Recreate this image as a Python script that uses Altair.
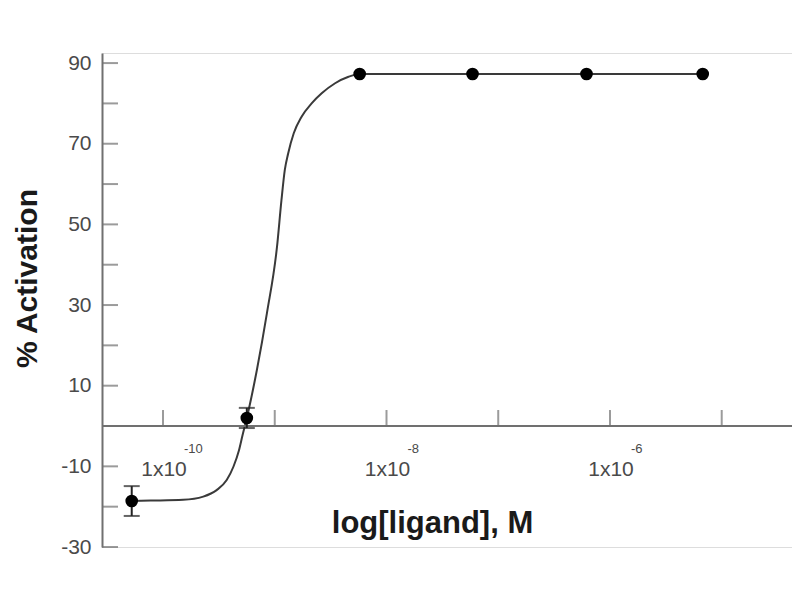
import altair as alt
import pandas as pd

# data points (x as log10 of molar concentration)
pt_logx = [-10.28, -9.25, -8.24, -7.23, -6.21, -5.17]
pt_y = [-18.6, 2.0, 87.3, 87.3, 87.3, 87.3]
pt_err = [3.7, 2.5, 0.0, 0.0, 0.0, 0.0]

# fitted curve
curve_logx = [-10.28, -10.11, -9.82, -9.64, -9.52, -9.43, -9.37, -9.32, -9.29,
              -9.25, -9.16, -9.07, -8.98, -8.94, -8.91, -8.88, -8.83, -8.76,
              -8.67, -8.58, -8.46, -8.34, -8.24, -5.17]
curve_y = [-18.6, -18.5, -18.3, -17.5, -15.9, -13.4, -10.1, -6.0, -2.5,
           2.0, 13.9, 28.0, 44.4, 56.0, 63.5, 67.6, 72.6, 76.7,
           80.0, 82.5, 85.0, 86.6, 87.3, 87.3]

# axis ticks and labels
x_ticks = [-10, -9, -8, -7, -6, -5]
x_label_pos = [-10, -8, -6]
x_label_base = ["1x10", "1x10", "1x10"]
x_label_sup = ["-10", "-8", "-6"]
y_labels = [-30, -10, 10, 30, 50, 70, 90]
y_ticks = [-30, -20, -10, 10, 20, 30, 40, 50, 60, 70, 80, 90]

LABEL_FONT = "Liberation Sans, Arial"
BOLD = "Liberation Sans, Arial"
AXIS_GRAY = "#707070"
LABEL_GRAY = "#4a4a4a"

W, H = 690, 494
xscale = alt.Scale(domain=[-10.546, -4.371], nice=False, zero=False)
yscale = alt.Scale(domain=[-30, 92.5], nice=False, zero=False)

pts = pd.DataFrame({"lx": pt_logx, "y": pt_y, "err": pt_err})
pts["lo"] = pts["y"] - pts["err"]
pts["hi"] = pts["y"] + pts["err"]
errs = pts[pts["err"] > 0]
curve = pd.DataFrame({"lx": curve_logx, "y": curve_y})
xt = pd.DataFrame({"lx": x_ticks, "zero": [0] * len(x_ticks)})
xl = pd.DataFrame({"lx": x_label_pos, "base": x_label_base,
                   "sup": x_label_sup, "zero": [0] * len(x_label_pos)})
yt = pd.DataFrame({"y": y_ticks})

x_axis = alt.Axis(domain=False, ticks=False, labels=False, grid=False,
                  title="log[ligand], M", titleFont=BOLD, titleFontSize=31,
                  titleFontWeight="bold", titleColor="#1a1a1a",
                  titleX=330, titleY=-15, titleAlign="center",
                  titleBaseline="alphabetic")
y_axis = alt.Axis(values=y_labels, ticks=False, domain=True,
                  domainColor=AXIS_GRAY, domainWidth=2, grid=False,
                  labelExpr="'' + datum.value",
                  labelFont=LABEL_FONT, labelFontSize=21, labelColor=LABEL_GRAY,
                  labelPadding=11,
                  title="% Activation", titleFont=BOLD, titleFontSize=30,
                  titleFontWeight="bold", titleColor="#1a1a1a",
                  titleAngle=270, titleX=-66, titleY=225,
                  titleAlign="center", titleBaseline="alphabetic")

line = alt.Chart(curve).mark_line(color="#3a3a3a", strokeWidth=2,
                                  interpolate="monotone").encode(
    x=alt.X("lx:Q", scale=xscale, axis=x_axis),
    y=alt.Y("y:Q", scale=yscale, axis=y_axis),
)

zero_line = alt.Chart(xt).mark_rule(color=AXIS_GRAY, strokeWidth=2).encode(
    x=alt.value(0), x2=alt.value(W), y=alt.Y("zero:Q", scale=yscale)
)

xticks = alt.Chart(xt).mark_tick(color=AXIS_GRAY, thickness=2, size=16,
                                 orient="vertical", yOffset=-8).encode(
    x=alt.X("lx:Q", scale=xscale), y=alt.Y("zero:Q", scale=yscale)
)

yticks = alt.Chart(yt).mark_tick(color=AXIS_GRAY, thickness=2, size=16,
                                 orient="horizontal").encode(
    x=alt.value(8), y=alt.Y("y:Q", scale=yscale)
)

xlab = alt.Chart(xl).mark_text(font=LABEL_FONT, fontSize=21, color=LABEL_GRAY,
                               align="center", baseline="alphabetic",
                               dx=1, dy=50).encode(
    x=alt.X("lx:Q", scale=xscale), y=alt.Y("zero:Q", scale=yscale),
    text="base:N"
)

xsup = alt.Chart(xl).mark_text(font=LABEL_FONT, fontSize=13, color=LABEL_GRAY,
                               align="left", baseline="alphabetic",
                               dx=21, dy=27).encode(
    x=alt.X("lx:Q", scale=xscale), y=alt.Y("zero:Q", scale=yscale),
    text="sup:N"
)

err_rule = alt.Chart(errs).mark_rule(color="#222222", strokeWidth=2).encode(
    x=alt.X("lx:Q", scale=xscale), y=alt.Y("lo:Q", scale=yscale), y2="hi:Q"
)
cap_lo = alt.Chart(errs).mark_tick(color="#222222", thickness=2, size=16,
                                   orient="horizontal").encode(
    x=alt.X("lx:Q", scale=xscale), y=alt.Y("lo:Q", scale=yscale)
)
cap_hi = alt.Chart(errs).mark_tick(color="#222222", thickness=2, size=16,
                                   orient="horizontal").encode(
    x=alt.X("lx:Q", scale=xscale), y=alt.Y("hi:Q", scale=yscale)
)

points = alt.Chart(pts).mark_circle(color="#000000", opacity=1, size=160).encode(
    x=alt.X("lx:Q", scale=xscale), y=alt.Y("y:Q", scale=yscale)
)

chart = alt.layer(
    line, zero_line, xticks, yticks, xlab, xsup, err_rule, cap_lo, cap_hi, points
).properties(
    width=W, height=H,
    autosize=alt.AutoSizeParams(type="none"),
    padding={"left": 94, "top": 45, "right": 0, "bottom": 40},
).configure_view(stroke=None).configure(background="white")

chart.save("out.html", embed_options={"renderer": "svg", "actions": False})
